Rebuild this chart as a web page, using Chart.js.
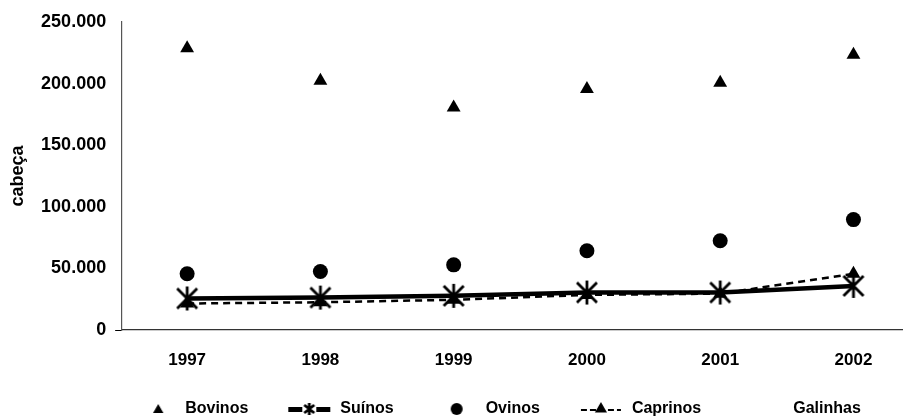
<!DOCTYPE html>
<html lang="pt-BR">
<head>
<meta charset="utf-8">
<title>Rebanhos</title>
<script src="https://cdn.jsdelivr.net/npm/chart.js@4/dist/chart.umd.min.js"></script>
<style>
  html, body { margin: 0; padding: 0; background: #fff; overflow: hidden; }
  #wrap { width: 911px; height: 418px; position: relative; }
</style>
</head>
<body>
<div id="wrap"><canvas id="rebanho"></canvas></div>
<script>
// efetivo dos rebanhos, em cabeças
const anos = [1997, 1998, 1999, 2000, 2001, 2002];
const bovinos = [228600, 202300, 180500, 195700, 200600, 223400];
const suinos = [25600, 26300, 27700, 30400, 30400, 35800];
const ovinos = [45600, 47500, 52900, 64300, 72500, 89600];
const caprinos = [21500, 22500, 24500, 28500, 29500, 45600];
const galinhas = [null, null, null, null, null, null];
const yTicks = [0, 50000, 100000, 150000, 200000, 250000];

Chart.defaults.font.family = '"Liberation Sans", Arial, sans-serif';
Chart.defaults.font.weight = 'bold';
Chart.defaults.color = '#000';

function pontos(valores) {
    return anos.map((a, i) => ({x: a, y: valores[i]}));
}

function milhar(v) {
    return String(v).replace(/\B(?=(\d{3})+(?!\d))/g, '.');
}

function novoCanvas(w, h) {
    let c = document.createElement('canvas');
    c.width = w;
    c.height = h;
    return c;
}

// asterisco do Excel: um X cortado por uma barra vertical
function desenhaAsterisco(ctx, cx, cy, w, h) {
    ctx.save();
    ctx.strokeStyle = '#000';
    ctx.lineWidth = 2.8;
    ctx.beginPath();
    ctx.moveTo(cx - w / 2, cy - h / 2 + 2);
    ctx.lineTo(cx + w / 2, cy + h / 2 - 2);
    ctx.moveTo(cx + w / 2, cy - h / 2 + 2);
    ctx.lineTo(cx - w / 2, cy + h / 2 - 2);
    ctx.moveTo(cx, cy - h / 2);
    ctx.lineTo(cx, cy + h / 2);
    ctx.stroke();
    ctx.restore();
}

function desenhaTriangulo(ctx, cx, cy, r) {
    ctx.beginPath();
    ctx.moveTo(cx, cy - r);
    ctx.lineTo(cx + r * 0.866, cy + r / 2);
    ctx.lineTo(cx - r * 0.866, cy + r / 2);
    ctx.closePath();
    ctx.fillStyle = '#000';
    ctx.fill();
}

const asterisco = novoCanvas(24, 26);
desenhaAsterisco(asterisco.getContext('2d'), 12, 13, 20, 24);

// símbolos da legenda (centro da imagem = centro da caixa da legenda)
function simbolo(tipo) {
    let c = novoCanvas(100, 22);
    let ctx = c.getContext('2d');
    if (tipo === 'triangulo') {
        desenhaTriangulo(ctx, 71, 12, 6);
    } else if (tipo === 'circulo') {
        ctx.beginPath();
        ctx.arc(69, 11, 6, 0, Math.PI * 2);
        ctx.fill();
    } else if (tipo === 'linhaAsterisco') {
        ctx.fillRect(46, 9, 42, 5);
        ctx.clearRect(60, 6, 14, 12);
        desenhaAsterisco(ctx, 67, 11, 10, 12);
    } else if (tipo === 'linhaTriangulo') {
        ctx.strokeStyle = '#000';
        ctx.lineWidth = 2;
        ctx.setLineDash([6, 3]);
        ctx.beginPath();
        ctx.moveTo(47, 12);
        ctx.lineTo(87, 12);
        ctx.stroke();
        desenhaTriangulo(ctx, 67, 11, 7);
    }
    return c;
}

const simbolosLegenda = [
    simbolo('triangulo'),
    simbolo('linhaAsterisco'),
    simbolo('circulo'),
    simbolo('linhaTriangulo'),
    simbolo('nenhum')
];

// empurra a legenda para a direita e para baixo
const deslocaLegenda = {
    id: 'deslocaLegenda',
    afterLayout(chart) {
        const lg = chart.legend;
        lg.left += 22;
        lg.right += 22;
        lg.top += 9;
        lg.bottom += 9;
    }
};

const ctx = document.getElementById('rebanho');

new Chart(ctx, {
    type: 'line',
    data: {
        datasets: [
            {
                label: 'Bovinos',
                data: pontos(bovinos),
                showLine: false,
                pointStyle: 'triangle',
                pointRadius: 8,
                pointBackgroundColor: '#000',
                pointBorderColor: '#000',
                pointBorderWidth: 0
            },
            {
                label: 'Suínos',
                data: pontos(suinos),
                borderColor: '#000',
                borderWidth: 4.5,
                pointStyle: asterisco,
                tension: 0
            },
            {
                label: 'Ovinos',
                data: pontos(ovinos),
                showLine: false,
                pointStyle: 'circle',
                pointRadius: 7.5,
                pointBackgroundColor: '#000',
                pointBorderColor: '#000',
                pointBorderWidth: 0
            },
            {
                label: 'Caprinos',
                data: pontos(caprinos),
                borderColor: '#000',
                borderWidth: 2.5,
                borderDash: [7, 5],
                pointStyle: 'triangle',
                pointRadius: 8,
                pointBackgroundColor: '#000',
                pointBorderColor: '#000',
                pointBorderWidth: 0,
                tension: 0
            },
            {
                label: 'Galinhas',
                data: pontos(galinhas),
                showLine: false,
                pointRadius: 0
            }
        ]
    },
    options: {
        responsive: true,
        maintainAspectRatio: false,
        animation: false,
        layout: {padding: {left: 3, top: 22, right: 0, bottom: 0}},
        scales: {
            x: {
                type: 'linear',
                min: 1996.505,
                max: 2002.368,
                afterBuildTicks: axis => {
                    axis.ticks = anos.map(a => ({value: a}));
                },
                afterFit: scale => {
                    scale.height = 58;
                },
                ticks: {
                    padding: 20,
                    font: {size: 17},
                    callback: v => String(v)
                },
                grid: {display: false, drawTicks: false},
                border: {display: true, color: '#333', width: 1.2, dash: [14, 4, 3, 4]}
            },
            y: {
                min: 0,
                max: 250000,
                afterBuildTicks: axis => {
                    axis.ticks = yTicks.map(v => ({value: v}));
                },
                ticks: {
                    padding: 9,
                    font: {size: 18},
                    callback: v => milhar(v)
                },
                grid: {
                    drawOnChartArea: false,
                    drawTicks: true,
                    tickLength: 6,
                    color: c => (c.tick && c.tick.value === 0) ? '#000' : 'rgba(0,0,0,0)'
                },
                border: {display: true, color: '#555', width: 1.2, dash: [3, 12]},
                title: {
                    display: true,
                    text: 'cabeça',
                    font: {size: 18},
                    padding: {top: 4, bottom: 3.5}
                }
            }
        },
        plugins: {
            legend: {
                position: 'bottom',
                labels: {
                    usePointStyle: true,
                    pointStyleWidth: 80,
                    padding: 4,
                    font: {size: 16},
                    generateLabels: chart => chart.data.datasets.map((ds, i) => ({
                        text: ds.label,
                        pointStyle: simbolosLegenda[i],
                        datasetIndex: i,
                        fillStyle: '#000',
                        strokeStyle: '#000',
                        lineWidth: 1,
                        hidden: false
                    }))
                },
                onClick: () => {}
            },
            tooltip: {enabled: false}
        }
    },
    plugins: [deslocaLegenda]
});
</script>
</body>
</html>
